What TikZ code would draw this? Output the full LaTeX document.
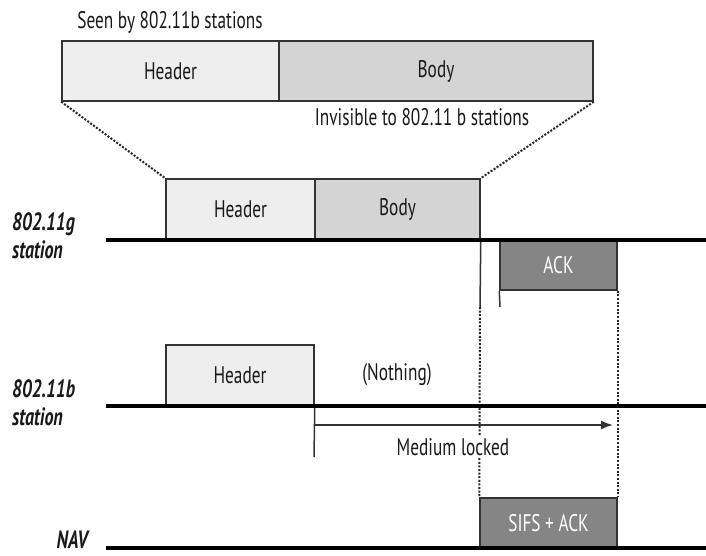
\documentclass[tikz,border=0pt]{standalone}
\usepackage{fontspec}
\setmainfont{PT Sans}[FakeStretch=0.72]
\usetikzlibrary{arrows.meta}
\definecolor{hdrfill}{HTML}{EEEEEE}
\definecolor{bodyfill}{HTML}{D4D4D4}
\definecolor{ackfill}{HTML}{858585}
\definecolor{edge}{HTML}{333333}
\tikzset{
  pkt/.style={draw=edge, line width=1.5pt, inner sep=0pt, font=\fontsize{24}{28}\selectfont, text=black!90},
  hdr/.style={pkt, fill=hdrfill},
  bdy/.style={pkt, fill=bodyfill},
  ackbox/.style={pkt, fill=ackfill, text=white},
  timeline/.style={line width=3.4pt, black},
  thin/.style={line width=1.5pt, edge},
  dotline/.style={line width=2pt, black!85, dash pattern=on 2pt off 1.6pt},
  lbl/.style={inner sep=1pt, font=\fontsize{24}{28}\selectfont, text=black!90},
  stlbl/.style={inner sep=0pt, align=left, font=\fontsize{25}{28}\selectfont\bfseries\itshape, text=black!90}
}
\begin{document}
\begin{tikzpicture}[x=1pt,y=-1pt]
\useasboundingbox[fill=white] (0,0) rectangle (706,555);
% top frame
\node[hdr, minimum width=217pt, minimum height=60pt] (hdrTop) at (170.5,71) {Header};
\node[bdy, minimum width=314pt, minimum height=60pt] (bodyTop) at (436,71) {Body};
\node[lbl] (seen) at (170,22) {Seen by 802.11b stations};
\node[lbl] (invis) at (422,117) {Invisible to 802.11 b stations};
% timelines
\coordinate (gL) at (106,240); \coordinate (gR) at (706,240);
\coordinate (bL) at (106,406); \coordinate (bR) at (706,406);
\coordinate (nL) at (106,548); \coordinate (nR) at (706,548);
% g station
\node[hdr, minimum width=149pt, minimum height=61pt] (hdrG) at (240.5,209.5) {Header};
\node[bdy, minimum width=165pt, minimum height=61pt] (bodyG) at (397.5,209.5) {Body};
\node[ackbox, minimum width=117pt, minimum height=50pt] (ackG) at (558.5,265) {ACK};
% b station
\node[hdr, minimum width=148pt, minimum height=61pt] (hdrB) at (240,375.5) {Header};
\node[lbl] (nothing) at (397,375) {(Nothing)};
% NAV
\node[ackbox, minimum width=137pt, minimum height=50pt] (sifs) at (548.5,523) {SIFS + ACK};
% labels
\node[stlbl, anchor=west] (gst) at (12,236) {802.11g\\station};
\node[stlbl, anchor=west] (bst) at (12,403) {802.11b\\station};
\node[stlbl, anchor=east] (nav) at (88,540) {NAV};
% dotted zoom lines
\draw[dotline] (hdrTop.south west) -- (hdrG.north west);
\draw[dotline] (bodyTop.south east) -- (bodyG.north east);
% verticals
\coordinate (v1end) at (480,307);
\coordinate (ackTick) at (500,307);
\coordinate (bVend) at (314,457);
\draw[thin] (bodyG.south east) -- (v1end);
\draw[dotline] (v1end) -- (sifs.north west);
\draw[thin] (ackG.south west) -- (ackTick);
\draw[dotline] (ackG.south east) -- (sifs.north east);
\draw[thin] (hdrB.south east) -- (bVend);
% arrow
\coordinate (arrS) at (314,425); \coordinate (arrE) at (613,425);
\draw[thin, -{Latex[length=12pt,width=9pt]}] (arrS) -- (arrE);
\node[lbl, fill=white, inner sep=2pt] (locked) at (453,447) {Medium locked};
% timelines on top
\draw[timeline] (gL) -- (gR);
\draw[timeline] (bL) -- (bR);
\draw[timeline] (nL) -- (nR);
\end{tikzpicture}
\end{document}
